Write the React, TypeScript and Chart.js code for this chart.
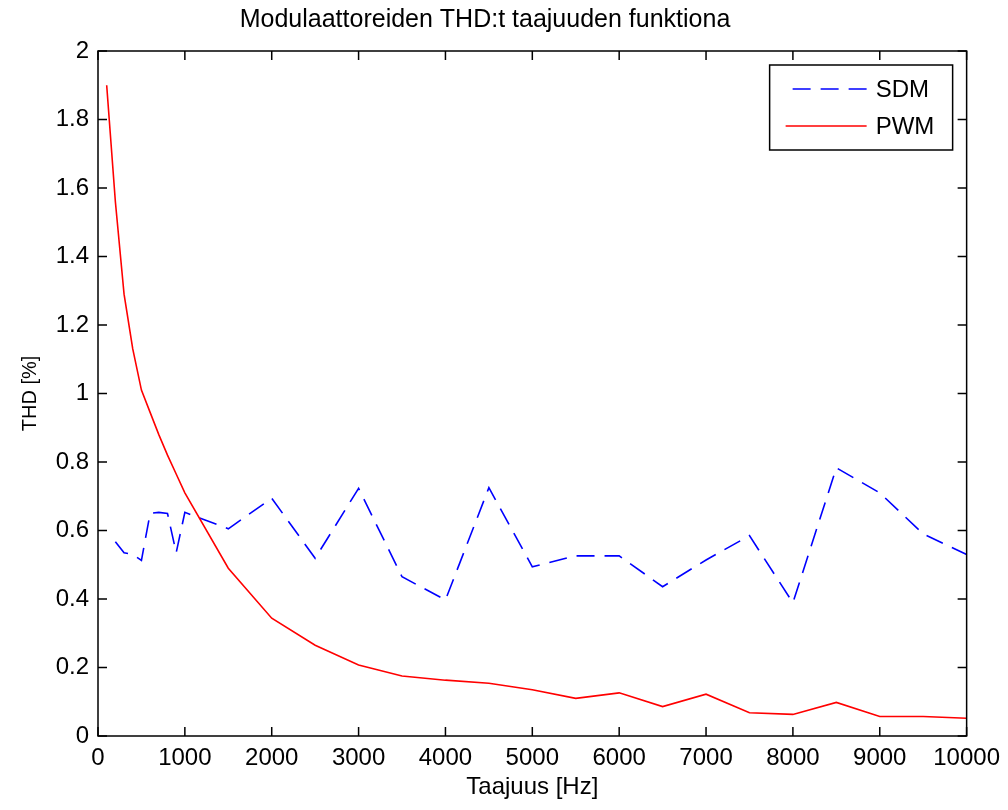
import { useEffect, useRef } from 'react';
import { Chart, registerables } from 'chart.js';

Chart.register(...registerables);

// Sigma-delta modulator THD per test frequency
const sdmFreq = [200, 300, 400, 500, 600, 700, 800, 900, 1000, 1500, 2000, 2500, 3000, 3500, 4000, 4500, 5000, 5500, 6000, 6500, 7000, 7500, 8000, 8500, 9000, 9500, 10000];
const sdmThd = [0.567, 0.535, 0.53, 0.513, 0.65, 0.653, 0.65, 0.535, 0.653, 0.605, 0.694, 0.519, 0.723, 0.465, 0.397, 0.725, 0.494, 0.526, 0.526, 0.436, 0.514, 0.585, 0.389, 0.783, 0.71, 0.59, 0.53];

// PWM modulator THD per test frequency
const pwmFreq = [100, 200, 300, 400, 500, 600, 700, 800, 900, 1000, 1500, 2000, 2500, 3000, 3500, 4000, 4500, 5000, 5500, 6000, 6500, 7000, 7500, 8000, 8500, 9000, 9500, 10000];
const pwmThd = [1.9, 1.56, 1.29, 1.13, 1.01, 0.945, 0.88, 0.82, 0.765, 0.71, 0.49, 0.344, 0.265, 0.207, 0.175, 0.163, 0.154, 0.135, 0.11, 0.126, 0.086, 0.122, 0.068, 0.063, 0.098, 0.057, 0.057, 0.052];

const xTickValues = [0, 1000, 2000, 3000, 4000, 5000, 6000, 7000, 8000, 9000, 10000];
const xTickLabels = ['0', '1000', '2000', '3000', '4000', '5000', '6000', '7000', '8000', '9000', '10000'];
const yTickValues = [0, 0.2, 0.4, 0.6, 0.8, 1, 1.2, 1.4, 1.6, 1.8, 2];
const yTickLabels = ['0', '0.2', '0.4', '0.6', '0.8', '1', '1.2', '1.4', '1.6', '1.8', '2'];

const seriesNames = ['SDM', 'PWM'];
const titleText = 'Modulaattoreiden THD:t taajuuden funktiona';
const xTitleText = 'Taajuus [Hz]';
const yTitleText = 'THD [%]';

const FONT = "'Liberation Sans', Arial, Helvetica, sans-serif";
const TICK_LEN = 9;

// Box frame with inward ticks on all four sides, plus a boxed legend in the upper right
const framePlugin = {
  id: 'boxFrame',
  afterDatasetsDraw(chart: any) {
    const { ctx, chartArea: a, scales } = chart;
    ctx.save();
    ctx.strokeStyle = '#000';
    ctx.lineWidth = 1.5;
    ctx.strokeRect(a.left, a.top, a.right - a.left, a.bottom - a.top);
    ctx.beginPath();
    for (const v of xTickValues) {
      const px = scales.x.getPixelForValue(v);
      ctx.moveTo(px, a.bottom);
      ctx.lineTo(px, a.bottom - TICK_LEN);
      ctx.moveTo(px, a.top);
      ctx.lineTo(px, a.top + TICK_LEN);
    }
    for (const v of yTickValues) {
      const py = scales.y.getPixelForValue(v);
      ctx.moveTo(a.left, py);
      ctx.lineTo(a.left + TICK_LEN, py);
      ctx.moveTo(a.right, py);
      ctx.lineTo(a.right - TICK_LEN, py);
    }
    ctx.stroke();

    // legend
    const bw = 183;
    const bh = 85;
    const bx = a.right - 14 - bw;
    const by = a.top + 14;
    ctx.fillStyle = '#fff';
    ctx.fillRect(bx, by, bw, bh);
    ctx.lineWidth = 1.5;
    ctx.strokeStyle = '#000';
    ctx.strokeRect(bx, by, bw, bh);
    const rows = [
      { y: by + 24, x0: bx + 23 },
      { y: by + 61, x0: bx + 16 },
    ];
    chart.data.datasets.forEach((ds: any, i: number) => {
      const r = rows[i];
      ctx.save();
      ctx.strokeStyle = ds.borderColor;
      ctx.lineWidth = ds.borderWidth;
      ctx.setLineDash(ds.borderDash || []);
      ctx.beginPath();
      ctx.moveTo(r.x0, r.y);
      ctx.lineTo(bx + 97, r.y);
      ctx.stroke();
      ctx.restore();
      ctx.fillStyle = '#000';
      ctx.font = `24px ${FONT}`;
      ctx.textBaseline = 'middle';
      ctx.textAlign = 'left';
      ctx.fillText(ds.label, bx + 106, r.y + 1);
    });
    ctx.restore();
  },
};

export default function App() {
  const canvasRef = useRef<HTMLCanvasElement | null>(null);

  useEffect(() => {
    const canvas = canvasRef.current;
    if (!canvas) return;
    const chart = new Chart(canvas, {
      type: 'line',
      data: {
        datasets: [
          {
            label: seriesNames[0],
            data: sdmFreq.map((f, i) => ({ x: f, y: sdmThd[i] })),
            borderColor: '#0000ff',
            borderWidth: 1.6,
            borderDash: [18, 10],
            pointRadius: 0,
            fill: false,
            tension: 0,
            order: 1,
          },
          {
            label: seriesNames[1],
            data: pwmFreq.map((f, i) => ({ x: f, y: pwmThd[i] })),
            borderColor: '#ff0000',
            borderWidth: 1.6,
            pointRadius: 0,
            fill: false,
            tension: 0,
            order: 0,
          },
        ],
      },
      options: {
        responsive: false,
        animation: false,
        layout: { padding: { left: 0, right: 38, top: 0, bottom: 0 } },
        plugins: {
          legend: { display: false },
          tooltip: { enabled: false },
          title: {
            display: true,
            text: titleText,
            color: '#000',
            font: { family: FONT, size: 25, weight: 'normal' },
            padding: { top: 5, bottom: 16 },
          },
        },
        scales: {
          x: {
            type: 'linear',
            min: 0,
            max: 10000,
            grid: { display: false, drawTicks: false },
            border: { display: false },
            afterBuildTicks: (scale: any) => {
              scale.ticks = xTickValues.map((v) => ({ value: v }));
            },
            afterFit: (scale: any) => {
              scale.height = 74;
            },
            ticks: {
              color: '#000',
              padding: 8,
              maxRotation: 0,
              autoSkip: false,
              font: { family: FONT, size: 24 },
              callback: (_v: any, i: number) => xTickLabels[i],
            },
            title: {
              display: true,
              text: xTitleText,
              color: '#000',
              font: { family: FONT, size: 24 },
              padding: { top: 0, bottom: 8 },
            },
          },
          y: {
            type: 'linear',
            min: 0,
            max: 2,
            grid: { display: false, drawTicks: false },
            border: { display: false },
            afterBuildTicks: (scale: any) => {
              scale.ticks = yTickValues.map((v) => ({ value: v }));
            },
            afterFit: (scale: any) => {
              scale.width = 98;
            },
            ticks: {
              color: '#000',
              padding: 9,
              autoSkip: false,
              font: { family: FONT, size: 24 },
              callback: (_v: any, i: number) => yTickLabels[i],
            },
            title: {
              display: true,
              text: yTitleText,
              color: '#000',
              font: { family: FONT, size: 20 },
              padding: { top: 18, bottom: 0 },
            },
          },
        },
      },
      plugins: [framePlugin],
    });
    return () => chart.destroy();
  }, []);

  return (
    <div style={{ position: 'absolute', left: 0, top: 0, width: 1008, height: 810, background: '#fff' }}>
      <canvas ref={canvasRef} width={1008} height={810} />
    </div>
  );
}
